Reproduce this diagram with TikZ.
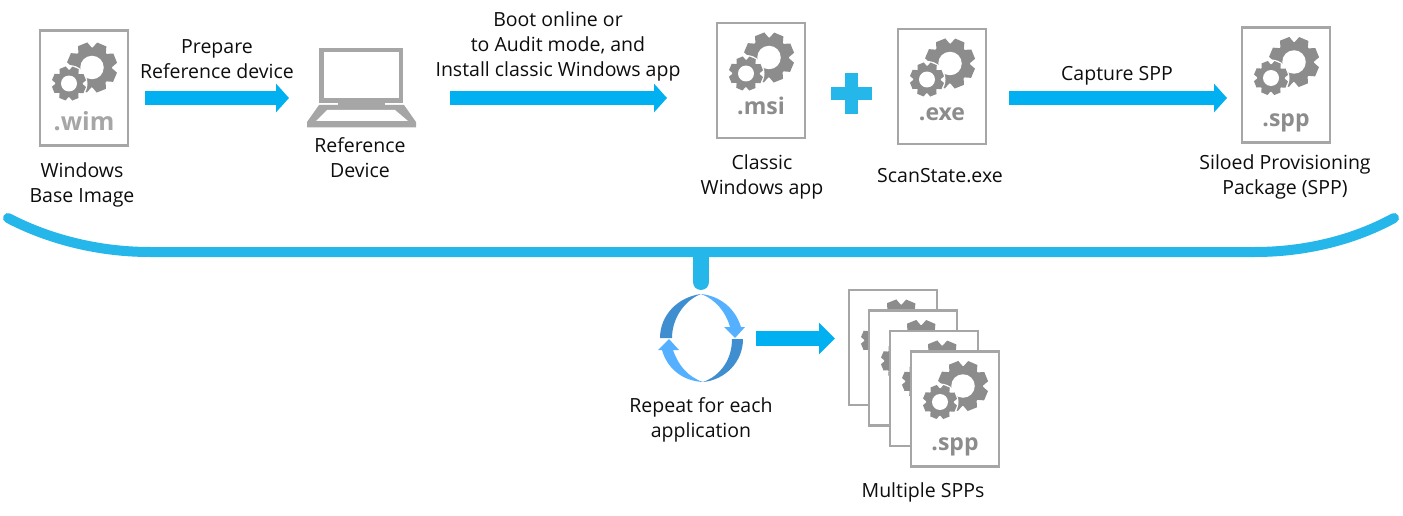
\documentclass[tikz,border=0pt]{standalone}
\usepackage{fontspec}
\setmainfont{Open Sans}
\usetikzlibrary{arrows.meta}

\definecolor{flowblue}{HTML}{00B0F0}
\definecolor{bracketblue}{HTML}{25B6EA}
\definecolor{docgray}{HTML}{A6A6A6}
\definecolor{geargray}{HTML}{8C8C8C}
\definecolor{cycledark}{HTML}{3F8FD0}
\definecolor{cyclelight}{HTML}{55B0FF}

\tikzset{
  gear/.pic = {
    \fill[geargray] (0,0) circle (0.8);
    \foreach \a in {0,45,...,315}
      \fill[geargray, rotate=\a+22] (-0.3,0.7) -- (-0.2,1) -- (0.2,1) -- (0.3,0.7) -- cycle;
    \fill[white] (0,0) circle (0.47);
  },
}

% icon with gears: name, centre, extension, drop of the gears, drop of the extension
\newcommand{\docicon}[5]{
  \node[docbox] (#1) at (#2) {};
  \pic[scale=25] at ([shift={(8,-23+#4)}]#1.center) {gear};
  \fill[white] ([shift={(-15,-7+#4)}]#1.center) circle (18.5);
  \pic[scale=17] at ([shift={(-15,-7+#4)}]#1.center) {gear};
  \node[exttext] (#1ext) at ([shift={(0,#5)}]#1.center) {#3};
}

\begin{document}
\begin{tikzpicture}[
  x = 1pt, y = -1pt,
  docbox/.style = {draw=docgray, fill=white, line width=2.6pt, minimum width=88pt, minimum height=115pt, inner sep=0pt, outer sep=0pt},
  exttext/.style = {text=geargray, font=\fontsize{23}{23}\selectfont\bfseries, inner sep=0pt},
  label/.style = {text=black!95, font=\fontsize{19.5}{25}\selectfont, align=center, inner sep=0pt},
  flow/.style = {draw=flowblue, line width=14pt, -{Triangle[length=13pt, width=28pt]}},
  bracket/.style = {draw=bracketblue, line width=10pt, line cap=round},
  laptop/.style = {draw=docgray, line width=4.5pt},
  ]
  \useasboundingbox (0,0) rectangle (1403,516);

  % top row
  \docicon{wim}{84,88}{\fontsize{25}{25}\selectfont\color{docgray}.wim}{2.5}{33.5}
  \docicon{msi}{761,80.5}{.msi}{0}{25.5}
  \docicon{exe}{942,86.5}{.exe}{0}{28}
  \docicon{spp}{1286,85}{.spp}{0}{38}

  % laptop
  \node[laptop, minimum width=79.5pt, minimum height=50.5pt, inner sep=0pt] (device) at (361,75.5) {};
  \fill[docgray] (338,102) rectangle (385,107);
  \fill[docgray] (319,105) -- (404,105) -- (416,122) -- (416,127.5) -- (307,127.5) -- (307,122) -- cycle;
  \fill[white] (327,110) -- (395,110) -- (408,121) -- (316,121) -- cycle;

  % plus sign
  \coordinate (plus) at (851,94);
  \fill[bracketblue] ([shift={(-6.5,-20.5)}]plus) rectangle ([shift={(6.5,20.5)}]plus);
  \fill[bracketblue] ([shift={(-20.5,-6.5)}]plus) rectangle ([shift={(20.5,6.5)}]plus);

  % arrows of the top row
  \coordinate (prepS) at (145,98);
  \coordinate (prepE) at (289,98);
  \coordinate (bootS) at (450,98);
  \coordinate (bootE) at (667,98);
  \coordinate (captS) at (1009,98);
  \coordinate (captE) at (1227,98);
  \draw[flow] (prepS) -- (prepE);
  \draw[flow] (bootS) -- (bootE);
  \draw[flow] (captS) -- (captE);

  % bracket with stem
  \coordinate (brL) at (8,218);
  \coordinate (brR) at (1394,218);
  \coordinate (brM) at (701,258);
  \coordinate (stemE) at (701,282);
  \draw[bracket] (brL) .. controls (50,240) and (100,252) .. (150,252) -- (1255,252) .. controls (1305,252) and (1354,240) .. (brR);
  \draw[bracket, line width=16pt] (brM) -- (stemE);

  % repeat circle
  \fill[cycledark] (701,294) .. controls (678,297) and (660,315) .. (660,338) -- (672,338) .. controls (672,318) and (685,300) .. (701,294) -- cycle;
  \fill[cyclelight] (701,294) .. controls (720,296) and (735,308) .. (741,327) -- (745,327) -- (735,338) -- (724,327) -- (730,327) .. controls (726,312) and (715,299) .. (701,294) -- cycle;
  \fill[cycledark] (732,339) -- (743,339) .. controls (743,362) and (725,380) .. (703,382) .. controls (720,376) and (732,360) .. (732,339) -- cycle;
  \fill[cyclelight] (703,382) .. controls (682,381) and (667,368) .. (662,350) -- (658,350) -- (669,339) -- (679,350) -- (673,350) .. controls (678,365) and (688,377) .. (703,382) -- cycle;

  \coordinate (moreS) at (756,338.5);
  \coordinate (moreE) at (835,338.5);
  \draw[flow, line width=15pt, -{Triangle[length=16pt, width=31pt]}] (moreS) -- (moreE);

  % stack of packages
  \docicon{sppA}{893,347.5}{}{0}{38}
  \docicon{sppB}{913,368}{}{0}{38}
  \docicon{sppC}{934,388.5}{}{0}{38}
  \docicon{sppD}{955,409}{.spp}{0}{38}

  % labels
  \node[label] (wimlab) at (82,184.5) {Windows\\Base Image};
  \node[label] (preplab) at (217,59) {Prepare\\Reference device};
  \node[label] (devlab) at (360,158) {Reference\\Device};
  \node[label] (bootlab) at (558,46) {Boot online or\\to Audit mode, and\\Install classic Windows app};
  \node[label] (msilab) at (762,177) {Classic\\Windows app};
  \node[label] (exelab) at (940,176) {ScanState.exe};
  \node[label] (captlab) at (1117,76) {Capture SPP};
  \node[label] (spplab) at (1285,177) {Siloed Provisioning\\Package (SPP)};
  \node[label] (replab) at (701,419.5) {Repeat for each\\application};
  \node[label] (stacklab) at (923,492) {Multiple SPPs};
\end{tikzpicture}
\end{document}
